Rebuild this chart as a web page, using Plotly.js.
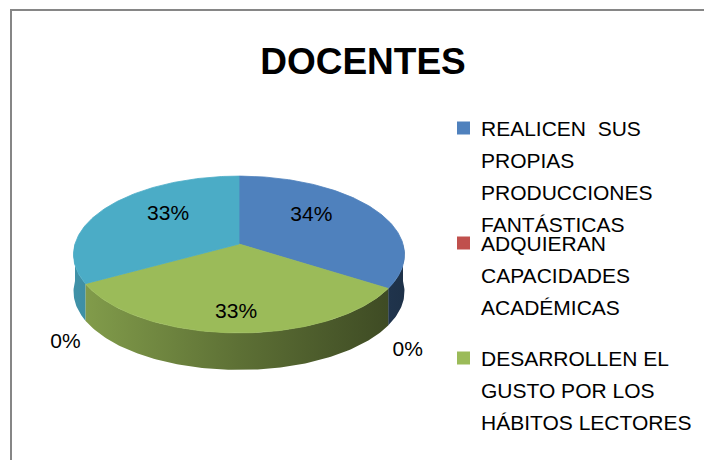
<!DOCTYPE html>
<html>
<head>
<meta charset="utf-8">
<script src="https://cdn.plot.ly/plotly-3.0.1.min.js"></script>
<style>html,body{margin:0;padding:0;background:#fff;}#chart{width:704px;height:460px;}</style>
</head>
<body>
<div id="chart"></div>
<script>
// ---- data ----
const chartTitle = 'DOCENTES';
const categories = [
  'REALICEN  SUS PROPIAS PRODUCCIONES FANTÁSTICAS',
  'ADQUIERAN CAPACIDADES ACADÉMICAS',
  'DESARROLLEN EL GUSTO POR LOS HÁBITOS LECTORES',
  'CATEGORÍA 4',
  'CATEGORÍA 5'
];
const values = [34, 0, 33, 0, 33];
const colors = ['#4F81BD', '#C0504D', '#9BBB59', '#8064A2', '#4BACC6'];
const legendShown = 3; // only the first three entries fit in the legend box

// ---- geometry of the tilted pie (pixels) ----
const W = 704, H = 460;
const CX = 239, CY = 244, RX = 164, RY = 77, K = 0.134, DEPTH = 37;
const FONT = 'Liberation Sans, Arial, sans-serif';

function proj(angDeg, r, z) {
  const a = angDeg * Math.PI / 180;
  const s = 1 / (1 + K * r * Math.sin(a));
  return [CX + RX * r * Math.cos(a) * s, CY - RY * r * Math.sin(a) * s + z * DEPTH];
}
function hexRgb(h) { return [parseInt(h.slice(1,3),16), parseInt(h.slice(3,5),16), parseInt(h.slice(5,7),16)]; }
function shade(h, m) { const c = hexRgb(h).map(v => Math.round(Math.min(255, v * m))); return `rgb(${c[0]},${c[1]},${c[2]})`; }

const total = values.reduce((a, b) => a + b, 0);
const slices = [];
let cum = 0;
values.forEach((v, i) => {
  const a0 = 90 - cum / total * 360;
  const a1 = a0 - v / total * 360;
  slices.push({ i, v, a0, a1, mid: (a0 + a1) / 2 });
  cum += v;
});

function arc(from, to, r, z) {
  const pts = [];
  const n = Math.max(2, Math.ceil(Math.abs(to - from)));
  for (let k = 0; k <= n; k++) pts.push(proj(from + (to - from) * k / n, r, z));
  return pts;
}

const traces = [];
const xL = CX - RX * 1.01, xR = CX + RX * 1.01;
// walls (front side, angles in [-180, 0])
slices.forEach(sl => {
  if (sl.v <= 0) return;
  [[-180, 0], [-540, -360]].forEach(([lo0, hi0]) => {
    const lo = Math.max(sl.a1, lo0), hi = Math.min(sl.a0, hi0);
    if (hi - lo <= 0.01) return;
    const top = arc(hi, lo, 1, 0);
    const bot = arc(lo, hi, 1, 1);
    const pts = top.concat(bot);
    pts.push(pts[0]);
    traces.push({
      type: 'scatter', mode: 'lines', hoverinfo: 'skip', showlegend: false,
      x: pts.map(p => p[0]), y: pts.map(p => p[1]),
      line: { width: 0 }, fill: 'toself',
      fillcolor: shade(colors[sl.i], 0.6),
      fillgradient: { type: 'horizontal', start: xL, stop: xR,
        colorscale: [[0, shade(colors[sl.i], 0.85)], [0.5, shade(colors[sl.i], 0.6)], [1, shade(colors[sl.i], 0.38)]] }
    });
  });
});
// top faces
slices.forEach(sl => {
  if (sl.v <= 0) return;
  const pts = [[CX, CY]].concat(arc(sl.a0, sl.a1, 1, 0));
  pts.push([CX, CY]);
  traces.push({
    type: 'scatter', mode: 'lines', hoverinfo: 'skip', showlegend: false,
    x: pts.map(p => p[0]), y: pts.map(p => p[1]),
    line: { width: 0.8, color: colors[sl.i] }, fill: 'toself', fillcolor: colors[sl.i]
  });
});
// percentage labels
const lx = [], ly = [], lt = [];
slices.forEach(sl => {
  const pct = Math.round(sl.v / total * 100) + '%';
  if (sl.v > 0) {
    lx.push(proj(sl.mid, 0.52, 0)[0]);
    ly.push(proj(sl.mid, 0.8, 0)[1]);
  } else {
    lx.push(proj(sl.a0, 1.12, 0)[0]);
    ly.push(proj(sl.a0, 1.5, 1)[1]);
  }
  lt.push(pct);
});
traces.push({
  type: 'scatter', mode: 'text', hoverinfo: 'skip', showlegend: false,
  x: lx, y: ly, text: lt, textposition: 'middle center',
  textfont: { family: FONT, size: 21, color: '#000' }
});

// legend (drawn manually: wrapped labels, only the entries that fit)
function wrap(s, maxLen) {
  const words = s.split(' ');
  const lines = [];
  let cur = null;
  words.forEach(w => {
    if (cur === null) cur = w;
    else if ((cur + ' ' + w).length <= maxLen) cur = cur + ' ' + w;
    else { lines.push(cur); cur = w; }
  });
  if (cur !== null) lines.push(cur);
  return lines;
}
const annotations = [];
const shapes = [];
const LEG_X = 479, LEG_Y0 = 128, LEG_STEP = 115, LINE_H = 32, SQ = 13;
for (let i = 0; i < legendShown; i++) {
  const y0 = LEG_Y0 + i * LEG_STEP;
  shapes.push({ type: 'rect', xref: 'x', yref: 'y', x0: 457, x1: 457 + SQ, y0: y0 - SQ / 2, y1: y0 + SQ / 2,
    fillcolor: colors[i], line: { width: 0 } });
  wrap(categories[i], 16).forEach((ln, j) => {
    annotations.push({ xref: 'x', yref: 'y', x: LEG_X, y: y0 + j * LINE_H, xanchor: 'left', yanchor: 'middle',
      text: ln.replace(/  /g, ' &nbsp;'), showarrow: false, font: { family: FONT, size: 21, color: '#000' } });
  });
}
// outer frame
shapes.push({ type: 'rect', xref: 'x', yref: 'y', x0: 11, x1: 720, y0: 10, y1: 480, line: { color: '#868686', width: 2 } });

const layout = {
  width: W, height: H,
  margin: { l: 0, r: 0, t: 0, b: 0 },
  paper_bgcolor: '#fff', plot_bgcolor: '#fff',
  title: { text: '<b>' + chartTitle + '</b>', font: { family: FONT, size: 37, color: '#000' },
    x: 363 / W, xanchor: 'center', xref: 'container', y: 1 - 61 / H, yanchor: 'middle', yref: 'container' },
  xaxis: { range: [0, W], visible: false, fixedrange: true },
  yaxis: { range: [H, 0], visible: false, fixedrange: true },
  showlegend: false,
  annotations, shapes
};
Plotly.newPlot('chart', traces, layout, { displayModeBar: false, staticPlot: true });
</script>
</body>
</html>
